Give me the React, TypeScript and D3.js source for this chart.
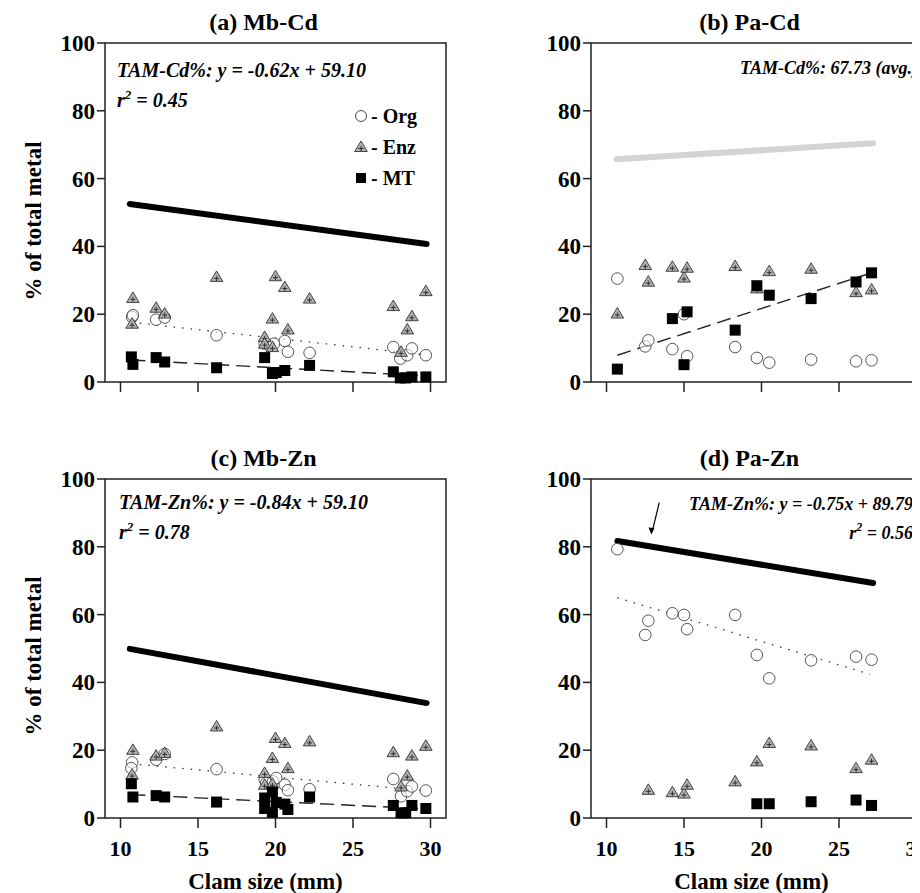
import React from 'react';
import * as d3 from 'd3';

// panel (a) Mb-Cd
const aOrg = [[10.75,19.2],[10.8,19.7],[12.3,18.4],[12.85,19],[16.2,13.8],[19.3,11.3],[19.6,10.8],[19.9,11.3],[20.6,12.1],[20.8,8.9],[22.2,8.6],[27.6,10.3],[28.05,6.9],[28.5,7.9],[28.8,9.9],[29.7,7.9]];
const aEnz = [[10.8,24.8],[10.75,17.2],[12.3,21.9],[12.85,20.2],[16.2,31],[19.3,13.3],[19.3,11.3],[19.8,18.7],[20,31.2],[20.6,28],[20.8,15.5],[22.2,24.6],[19.8,10.3],[27.6,22.4],[28.1,8.9],[28.5,15.5],[28.8,19.4],[29.7,26.8]];
const aMT = [[10.7,7.4],[10.8,5.2],[12.3,7.2],[12.85,5.9],[16.2,4.2],[19.3,7.2],[19.8,2.5],[20.05,2.8],[20.6,3.4],[22.2,4.9],[27.6,3],[28.05,1.2],[28.4,1.2],[28.8,1.5],[29.7,1.5]];
const aTam = [[10.6,52.5],[29.75,40.7]];
const aOrgFit = [[10.7,17.6],[29.7,8]];
const aMTFit = [[10.7,6.5],[29.7,1.8]];

// panel (b) Pa-Cd
const bOrg = [[10.7,30.5],[12.5,10.5],[12.7,12.3],[14.25,9.7],[15,20],[15.2,7.6],[18.3,10.3],[19.7,7.1],[20.5,5.7],[23.2,6.6],[26.1,6.1],[27.1,6.4]];
const bEnz = [[10.7,20.2],[12.5,34.5],[12.7,29.6],[14.25,34],[15,30.8],[15.2,33.7],[18.3,34.2],[19.7,27.6],[20.5,32.7],[23.2,33.4],[26.1,26.5],[27.1,27.3]];
const bMT = [[10.7,3.8],[14.25,18.7],[15,5.1],[15.2,20.7],[18.3,15.3],[19.7,28.4],[20.5,25.6],[23.2,24.6],[26.1,29.5],[27.1,32.2]];
const bTam = [[10.65,65.7],[27.2,70.4]];
const bMTFit = [[10.7,7.9],[27.1,32.2]];

// panel (c) Mb-Zn
const cOrg = [[10.75,16.4],[10.7,14.7],[12.3,17.2],[12.85,18.9],[16.2,14.4],[19.3,11.3],[19.4,10.3],[19.85,10.8],[20.05,11.8],[20.6,9.8],[20.8,8.2],[22.2,8.5],[27.6,11.5],[28.1,6.4],[28.5,7.9],[28.8,9.3],[29.7,8.1]];
const cEnz = [[10.8,20.1],[10.75,12.8],[12.3,18.4],[12.85,19.2],[16.2,27],[19.3,13.3],[19.3,9.8],[19.8,17.7],[20,23.6],[20.6,22.1],[20.8,14.7],[22.2,22.6],[19.8,10.1],[27.6,19.4],[28.1,9.3],[28.5,12.5],[28.8,18.4],[29.7,21.3]];
const cMT = [[10.7,10.1],[10.8,6.2],[12.3,6.6],[12.85,6.2],[16.2,4.7],[19.3,5.9],[19.3,2.8],[19.8,1.7],[19.8,7.7],[20.05,4.6],[20.6,4.1],[20.8,2.5],[22.2,6.2],[27.6,3.7],[28.1,1.5],[28.4,1.5],[28.8,3.7],[29.7,2.8]];
const cTam = [[10.6,49.9],[29.75,33.9]];
const cOrgFit = [[10.7,16],[29.7,8]];
const cMTFit = [[10.7,6.9],[29.7,2.7]];

// panel (d) Pa-Zn
const dOrg = [[10.7,79.3],[12.5,54],[12.7,58.2],[14.25,60.4],[15,59.9],[15.2,55.7],[18.3,59.9],[19.7,48.1],[20.5,41.2],[23.2,46.5],[26.1,47.6],[27.1,46.7]];
const dEnz = [[12.7,8.3],[14.25,7.6],[15,7.2],[15.2,9.8],[18.3,10.8],[19.7,16.7],[20.5,22.1],[23.2,21.4],[26.1,14.7],[27.1,17.2]];
const dMT = [[19.7,4.2],[20.5,4.2],[23.2,4.8],[26.1,5.3],[27.1,3.7]];
const dTam = [[10.7,81.7],[27.2,69.3]];
const dOrgFit = [[10.7,65],[27,42.4]];

const xTicks = [10, 15, 20, 25, 30];
const yTicks = [0, 20, 40, 60, 80, 100];

const FONT = 'Liberation Serif, DejaVu Serif, Times New Roman, serif';
const W = 341, H = 339;

type Pt = number[];
interface PanelProps {
  left: number; top: number; title: string;
  org: Pt[]; enz: Pt[]; mt: Pt[];
  tam: Pt[]; tamColor: string;
  orgFit?: Pt[]; mtFit?: Pt[];
  xLabels: boolean; children?: (x: any, y: any) => React.ReactNode;
}

function Tri({ cx, cy }: { cx: number; cy: number }) {
  const s = 6;
  return (
    <g transform={`translate(${cx},${cy})`}>
      <path d={`M0,${-s}L${s * 1.05},${s * 0.75}L${-s * 1.05},${s * 0.75}Z`} fill="#b0b0b0" stroke="#333" strokeWidth={0.9} />
      <path d="M-2.5,1.5H2.5M0,-1V4" stroke="#222" strokeWidth={0.9} />
    </g>
  );
}

function Panel(p: PanelProps) {
  const x = d3.scaleLinear().domain([9, 31]).range([0, W]);
  const y = d3.scaleLinear().domain([0, 100]).range([H, 0]);
  const line = d3.line<Pt>().x(d => x(d[0])).y(d => y(d[1]));
  return (
    <g transform={`translate(${p.left},${p.top})`}>
      <text x={W / 2 - 12} y={-13} textAnchor="middle" fontSize={24}>{p.title}</text>
      <rect x={0} y={0} width={W} height={H} fill="none" stroke="#222" strokeWidth={1.5} />
      {yTicks.map(t => (
        <g key={t} transform={`translate(0,${y(t)})`}>
          <line x1={-8} x2={0} stroke="#222" strokeWidth={1.5} />
          <text x={-10} dy="0.35em" textAnchor="end" fontSize={23}>{t}</text>
        </g>
      ))}
      {xTicks.map(t => (
        <g key={t} transform={`translate(${x(t)},${H})`}>
          <line y1={0} y2={10} stroke="#222" strokeWidth={1.5} />
          {p.xLabels && <text y={38} textAnchor="middle" fontSize={22}>{t}</text>}
        </g>
      ))}
      {p.xLabels && <text x={W / 2 - 10} y={H + 71} textAnchor="middle" fontSize={23}>Clam size (mm)</text>}
      <path d={line(p.tam) as string} stroke={p.tamColor} strokeWidth={6} strokeLinecap="round" fill="none" />
      {p.orgFit && <path d={line(p.orgFit) as string} stroke="#333" strokeWidth={1.3} strokeDasharray="1.5,7" fill="none" />}
      {p.mtFit && <path d={line(p.mtFit) as string} stroke="#222" strokeWidth={1.4} strokeDasharray="14,7" fill="none" />}
      {p.org.map((d, i) => <circle key={'o' + i} cx={x(d[0])} cy={y(d[1])} r={5.8} fill="white" fillOpacity={0.6} stroke="#444" strokeWidth={0.9} />)}
      {p.enz.map((d, i) => <Tri key={'e' + i} cx={x(d[0])} cy={y(d[1])} />)}
      {p.mt.map((d, i) => <rect key={'m' + i} x={x(d[0]) - 5.5} y={y(d[1]) - 5.5} width={11} height={11} fill="#000" />)}
      {p.children && p.children(x, y)}
    </g>
  );
}

export default function App() {
  return (
    <svg width={912} height={885} style={{ display: 'block', fontFamily: FONT, fontWeight: 'bold' }}>
      <text transform="translate(33,213) rotate(-90)" textAnchor="middle" fontSize={23}>% of total metal</text>
      <text transform="translate(33,648) rotate(-90)" textAnchor="middle" fontSize={23}>% of total metal</text>
      <Panel left={97} top={35} title="(a) Mb-Cd" org={aOrg} enz={aEnz} mt={aMT} tam={aTam} tamColor="#000" orgFit={aOrgFit} mtFit={aMTFit} xLabels={false}>
        {() => (
          <g fontSize={20}>
            <text x={12} y={34} fontStyle="italic">TAM-Cd%: y = -0.62x + 59.10</text>
            <text x={12} y={64} fontStyle="italic">r<tspan dy={-8} fontSize={13}>2</tspan><tspan dy={8}> = 0.45</tspan></text>
            <circle cx={256} cy={73} r={5.5} fill="white" stroke="#444" />
            <text x={266} y={80}>- Org</text>
            <Tri cx={256} cy={104} />
            <text x={266} y={111}>- Enz</text>
            <rect x={251} y={130} width={10} height={10} fill="#000" />
            <text x={266} y={142}>- MT</text>
          </g>
        )}
      </Panel>
      <Panel left={583} top={35} title="(b) Pa-Cd" org={bOrg} enz={bEnz} mt={bMT} tam={bTam} tamColor="#d4d4d4" mtFit={bMTFit} xLabels={false}>
        {() => <text x={327} y={31} fontSize={18} fontStyle="italic" textAnchor="end">TAM-Cd%: 67.73 (avg.)</text>}
      </Panel>
      <Panel left={97} top={471} title="(c) Mb-Zn" org={cOrg} enz={cEnz} mt={cMT} tam={cTam} tamColor="#000" orgFit={cOrgFit} mtFit={cMTFit} xLabels={true}>
        {() => (
          <g fontSize={20} fontStyle="italic">
            <text x={14} y={30}>TAM-Zn%: y = -0.84x + 59.10</text>
            <text x={14} y={60}>r<tspan dy={-8} fontSize={13}>2</tspan><tspan dy={8}> = 0.78</tspan></text>
          </g>
        )}
      </Panel>
      <Panel left={583} top={471} title="(d) Pa-Zn" org={dOrg} enz={dEnz} mt={dMT} tam={dTam} tamColor="#000" orgFit={dOrgFit} xLabels={true}>
        {(x: any, y: any) => (
          <g fontSize={18} fontStyle="italic">
            <text x={322} y={31} textAnchor="end">TAM-Zn%: y = -0.75x + 89.79</text>
            <text x={322} y={60} textAnchor="end">r<tspan dy={-8} fontSize={12}>2</tspan><tspan dy={8}> = 0.56</tspan></text>
            <line x1={x(13.4)} y1={y(93)} x2={x(12.95)} y2={y(84.5)} stroke="#000" strokeWidth={1.2} />
            <path d={`M${x(12.9)},${y(83.6)}l-3,-7l6,0.5z`} fill="#000" />
          </g>
        )}
      </Panel>
    </svg>
  );
}
